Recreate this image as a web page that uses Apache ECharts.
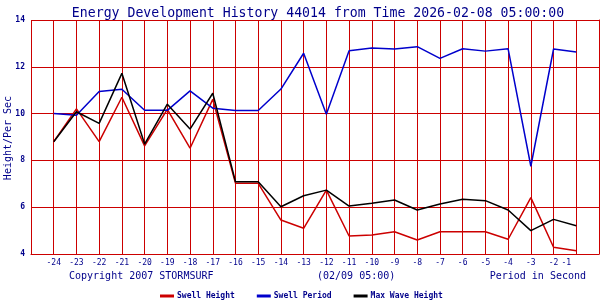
<!DOCTYPE html>
<html><head><meta charset="utf-8">
<script src="https://cdn.jsdelivr.net/npm/echarts@6/dist/echarts.min.js"></script>
<style>html,body{margin:0;padding:0;background:#fff}#c{width:600px;height:300px}</style>
</head><body><div id="c"></div>
<script>
const hours = [-24,-23,-22,-21,-20,-19,-18,-17,-16,-15,-14,-13,-12,-11,-10,-9,-8,-7,-6,-5,-4,-3,-2,-1];
const swellHeight = [8.80,10.20,8.80,10.70,8.62,10.18,8.52,10.61,7.02,7.02,5.45,5.10,6.73,4.77,4.81,4.95,4.60,4.95,4.95,4.95,4.63,6.41,4.29,4.14];
const swellPeriod = [10.00,9.93,10.94,11.04,10.14,10.14,10.97,10.23,10.13,10.13,11.05,12.58,9.97,12.69,12.80,12.76,12.86,12.36,12.77,12.67,12.77,7.75,12.76,12.63];
const maxWave = [8.80,10.08,9.58,11.72,8.70,10.40,9.34,10.87,7.09,7.09,6.02,6.49,6.73,6.05,6.17,6.31,5.88,6.14,6.34,6.28,5.88,5.00,5.48,5.21];
const titleText = 'Energy Development History 44014 from Time 2026-02-08 05:00:00';
const navy = '#00008b';
const mono = 'DejaVu Sans Mono';
const pair = v => hours.map((h,i)=>[h,v[i]]);
const chart = echarts.init(document.getElementById('c'), null, {renderer:'canvas'});
chart.setOption({
  animation:false,
  backgroundColor:'#fff',
  title:{text:titleText,left:313,textAlign:'center',top:2,textStyle:{color:navy,fontFamily:mono,fontSize:13.2,fontWeight:'normal'}},
  grid:{left:31,right:1,top:20,bottom:46,containLabel:false,outerBoundsMode:'none'},
  legend:{left:155,top:287,itemWidth:14,itemHeight:3,itemGap:22,icon:'rect',
    textStyle:{color:navy,fontFamily:mono,fontSize:8,fontWeight:'bold',padding:[0,0,0,-2]},
    data:['Swell Height','Swell Period','Max Wave Height']},
  xAxis:{type:'value',min:-25,max:0,interval:1,
    axisLine:{lineStyle:{color:'#cc0000'}},axisTick:{show:false},
    splitLine:{lineStyle:{color:'#cc0000',width:1}},
    axisLabel:{color:navy,fontFamily:mono,fontSize:8,margin:5,
      formatter:v=>(v===-25||v===0)?'':(v===-1?'{l|-1}':String(v)),
      rich:{l:{color:navy,fontFamily:mono,fontSize:8,padding:[0,20,0,0]}}}},
  yAxis:{type:'value',min:4,max:14,interval:2,
    axisLine:{show:true,lineStyle:{color:'#cc0000'}},axisTick:{show:false},
    splitLine:{lineStyle:{color:'#cc0000',width:1}},
    axisLabel:{color:navy,fontFamily:mono,fontSize:8,fontWeight:'bold',margin:6}},
  graphic:[
    {type:'text',x:8,y:138,rotation:Math.PI/2,style:{text:'Height/Per Sec',fill:navy,font:'10px "DejaVu Sans Mono"',align:'center',verticalAlign:'middle'}},
    {type:'text',left:69,top:271,style:{text:'Copyright 2007 STORMSURF',fill:navy,font:'10px "DejaVu Sans Mono"'}},
    {type:'text',left:317,top:271,style:{text:'(02/09 05:00)',fill:navy,font:'10px "DejaVu Sans Mono"'}},
    {type:'text',right:14,top:271,style:{text:'Period in Second',fill:navy,font:'10px "DejaVu Sans Mono"'}}
  ],
  series:[
    {name:'Swell Height',type:'line',data:pair(swellHeight),showSymbol:false,symbol:'none',lineStyle:{color:'#cc0000',width:1.5},itemStyle:{color:'#cc0000'}},
    {name:'Swell Period',type:'line',data:pair(swellPeriod),showSymbol:false,symbol:'none',lineStyle:{color:'#0000cc',width:1.5},itemStyle:{color:'#0000cc'}},
    {name:'Max Wave Height',type:'line',data:pair(maxWave),showSymbol:false,symbol:'none',lineStyle:{color:'#000000',width:1.5},itemStyle:{color:'#000000'}}
  ]
});
</script></body></html>
